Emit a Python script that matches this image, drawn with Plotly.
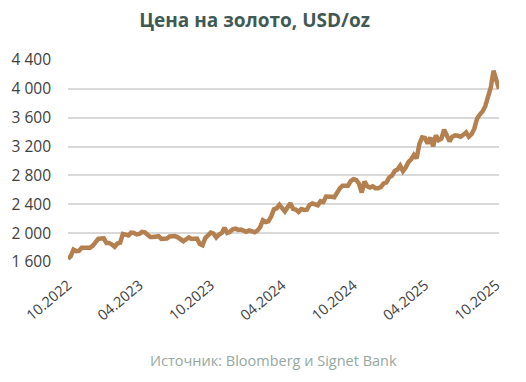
import pandas as pd
import plotly.graph_objects as go

# Weekly gold price, USD/oz (Friday closes), 28.10.2022 - 31.10.2025
dates = pd.date_range("2022-10-28", periods=158, freq="7D")
prices_2022 = [1645, 1681, 1771, 1751, 1755, 1797, 1797, 1793, 1798, 1824]
prices_2023 = [1865, 1920, 1926, 1928, 1865, 1865, 1842, 1811, 1856, 1868, 1989, 1978, 1969,
               2007, 2004, 1983, 1990, 2017, 2011, 1977, 1946, 1948, 1961, 1958, 1921, 1919,
               1925, 1955, 1962, 1959, 1942, 1914, 1889, 1915, 1940, 1919, 1924, 1925, 1849,
               1833, 1932, 1981, 2006, 1992, 1940, 1981, 2002, 2072, 2004, 2019, 2053, 2063]
prices_2024 = [2045, 2049, 2029, 2018, 2039, 2024, 2013, 2035, 2083, 2179, 2155, 2165, 2230,
               2330, 2344, 2392, 2337, 2301, 2360, 2415, 2334, 2327, 2294, 2333, 2322, 2326,
               2392, 2411, 2400, 2387, 2443, 2431, 2507, 2512, 2503, 2497, 2577, 2621, 2658,
               2653, 2657, 2721, 2747, 2737, 2685, 2563, 2716, 2650, 2633, 2648, 2623, 2621]
prices_2025 = [2640, 2690, 2703, 2771, 2798, 2861, 2883, 2936, 2858, 2910, 2984, 3023, 3084,
               3037, 3237, 3327, 3319, 3241, 3325, 3203, 3357, 3289, 3310, 3433, 3368, 3274,
               3337, 3355, 3350, 3337, 3363, 3397, 3336, 3372, 3448, 3587, 3643, 3685, 3760,
               3886, 4018, 4251, 4113, 4000]
prices = prices_2022 + prices_2023 + prices_2024 + prices_2025

y_ticks = [1600, 2000, 2400, 2800, 3200, 3600, 4000, 4400]
x_tick_dates = list(dates[::26])
x_tick_text = [d.strftime("%m.%Y") for d in x_tick_dates]

title_text = "Цена на золото, USD/oz"
source_text = "Источник: Bloomberg и Signet Bank"

fig = go.Figure()
fig.add_trace(go.Scatter(
    x=dates, y=prices, mode="lines",
    line=dict(color="#b5804f", width=4.5),
    hoverinfo="x+y",
))

font_family = "Open Sans, Lato, sans-serif"

fig.update_layout(
    width=526, height=382,
    margin=dict(l=66, r=27, t=60, b=120),
    paper_bgcolor="white", plot_bgcolor="white",
    separators=", ",
    showlegend=False,
    font=dict(family=font_family, color="#404040", size=14),
    title=dict(text="<b>" + title_text + "</b>", x=0.484, xanchor="center",
               y=0.947, yanchor="middle",
               font=dict(family=font_family, size=19, color="#3f5a55")),
    xaxis=dict(
        range=[dates[0], dates[-1]],
        tickmode="array", tickvals=x_tick_dates, ticktext=x_tick_text,
        tickangle=-40, showgrid=False, zeroline=False, showline=False,
        ticks="", ticklabelstandoff=11,
        tickfont=dict(size=14.5, color="#404040"),
    ),
    yaxis=dict(
        range=[1600, 4400],
        tickmode="array", tickvals=y_ticks, tickformat=",d",
        showgrid=True, gridcolor="#d9d9d9", gridwidth=1.5,
        zeroline=False, showline=False, ticks="",
        ticklabelstandoff=16,
        tickfont=dict(size=15.5, color="#404040"),
    ),
)

fig.add_annotation(
    text=source_text, xref="paper", yref="paper",
    x=0.476, y=-0.49, xanchor="center", yanchor="middle",
    showarrow=False, font=dict(family=font_family, size=14.5, color="#95a89f"),
)

fig.write_html("out.html")
